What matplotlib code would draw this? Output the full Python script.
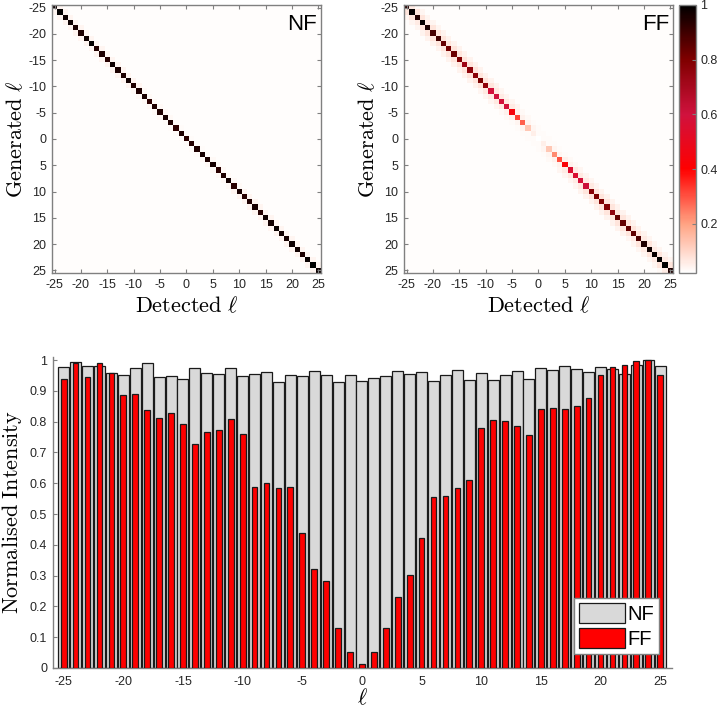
import numpy as np
import matplotlib
matplotlib.use('Agg')
import matplotlib.pyplot as plt
from matplotlib.colors import LinearSegmentedColormap, Normalize

plt.rcParams['font.family'] = ['Liberation Sans', 'DejaVu Sans']
plt.rcParams['mathtext.fontset'] = 'cm'
plt.rcParams['axes.unicode_minus'] = False

# orbital angular momentum values
ell = np.arange(-25, 26)

# normalised intensity (ell = -25 ... 25)
nf_vals = [0.976, 0.993, 0.980, 0.980, 0.959, 0.952, 0.975, 0.989, 0.946, 0.948,
           0.937, 0.975, 0.957, 0.954, 0.973, 0.949, 0.954, 0.960, 0.930, 0.950,
           0.948, 0.964, 0.953, 0.929, 0.952, 0.932, 0.942, 0.949, 0.965, 0.955,
           0.962, 0.932, 0.951, 0.968, 0.934, 0.959, 0.935, 0.950, 0.965, 0.939,
           0.974, 0.967, 0.982, 0.971, 0.962, 0.976, 0.971, 0.954, 0.983, 0.999,
           0.980]
ff_vals = [0.937, 0.989, 0.946, 0.989, 0.957, 0.886, 0.889, 0.837, 0.813, 0.829,
           0.793, 0.728, 0.765, 0.774, 0.810, 0.761, 0.587, 0.601, 0.584, 0.589,
           0.439, 0.322, 0.282, 0.130, 0.051, 0.014, 0.052, 0.130, 0.229, 0.301,
           0.421, 0.554, 0.559, 0.586, 0.611, 0.780, 0.804, 0.802, 0.787, 0.757,
           0.842, 0.843, 0.840, 0.850, 0.877, 0.950, 0.977, 0.985, 0.996, 0.999,
           0.953]

# faint crosstalk next to the diagonal (first and second neighbours)
nf_side1 = [0.04, 0.04, 0.04, 0.04, 0.04, 0.04, 0.04, 0.04, 0.04, 0.04,
            0.04, 0.04, 0.04, 0.04, 0.04, 0.04, 0.035, 0.035, 0.035, 0.035,
            0.035, 0.035, 0.03, 0.03, 0.03, 0.03, 0.03, 0.03, 0.03, 0.035,
            0.035, 0.035, 0.035, 0.035, 0.035, 0.04, 0.04, 0.04, 0.04, 0.04,
            0.04, 0.04, 0.04, 0.04, 0.04, 0.04, 0.04, 0.04, 0.04, 0.04,
            0.04]
ff_side1 = [0.06, 0.07, 0.07, 0.06, 0.07, 0.07, 0.07, 0.07, 0.07, 0.07,
            0.07, 0.07, 0.07, 0.07, 0.07, 0.07, 0.065, 0.06, 0.065, 0.06,
            0.05, 0.05, 0.04, 0.04, 0.03, 0.03, 0.03, 0.04, 0.04, 0.05,
            0.05, 0.06, 0.065, 0.06, 0.065, 0.07, 0.07, 0.07, 0.07, 0.07,
            0.07, 0.07, 0.07, 0.07, 0.06, 0.07, 0.06, 0.07, 0.06, 0.07,
            0.06]
ff_side2 = [0.035, 0.04, 0.04, 0.04, 0.04, 0.045, 0.045, 0.045, 0.045, 0.045,
            0.045, 0.045, 0.045, 0.045, 0.045, 0.045, 0.04, 0.04, 0.04, 0.04,
            0.035, 0.035, 0.03, 0.03, 0.03, 0.03, 0.03, 0.03, 0.03, 0.035,
            0.035, 0.04, 0.04, 0.04, 0.04, 0.045, 0.045, 0.045, 0.045, 0.045,
            0.045, 0.045, 0.045, 0.045, 0.04, 0.04, 0.04, 0.04, 0.04, 0.04,
            0.035]
background = 0.025


def build_matrix(diag, side1, side2=None):
    n = len(diag)
    m = np.full((n, n), background)
    for i in range(n):
        for j in (i - 1, i + 1):
            if 0 <= j < n:
                m[i, j] = side1[i]
        if side2 is not None:
            for j in (i - 2, i + 2):
                if 0 <= j < n:
                    m[i, j] = side2[i]
        m[i, i] = diag[i]
    return m


nf_mat = build_matrix(nf_vals, nf_side1)
ff_mat = build_matrix(ff_vals, ff_side1, ff_side2)

# colour map: white -> salmon -> red -> crimson -> dark red -> black
vmin, vmax = 0.02, 1.0
stops = [0.02, 0.2, 0.4, 0.6, 0.8, 1.0]
stop_cols = ['#ffffff', '#ffa282', '#ff0000', '#d0123e', '#800000', '#000000']
cmap = LinearSegmentedColormap.from_list(
    'wrk', [((s - vmin) / (vmax - vmin), c) for s, c in zip(stops, stop_cols)])
norm = Normalize(vmin=vmin, vmax=vmax)

spine_col = '#808080'
tick_col = '#262626'
tick_fs = 9
label_fs = 16

fig = plt.figure(figsize=(7.2, 7.1), dpi=100)


def style_axes(ax, box=True):
    for s in ax.spines.values():
        s.set_color(spine_col)
        s.set_linewidth(1.0)
    if not box:
        ax.spines['top'].set_visible(False)
        ax.spines['right'].set_visible(False)
    ax.tick_params(direction='in', length=3, width=0.8, color=spine_col,
                   labelcolor=tick_col, labelsize=tick_fs,
                   top=box, right=box, pad=4)


ticks5 = np.arange(-25, 26, 5)
for left, mat, name in [(0.0722, nf_mat, 'NF'), (0.561, ff_mat, 'FF')]:
    ax = fig.add_axes([left, 0.6155, 0.3736, 0.3775])
    ax.imshow(mat, cmap=cmap, norm=norm, interpolation='nearest', aspect='auto',
              extent=[-25.5, 25.5, 25.5, -25.5])
    ax.set_xticks(ticks5)
    ax.set_yticks(ticks5)
    ax.set_xticklabels([str(t) for t in ticks5])
    ax.set_yticklabels([str(t) for t in ticks5])
    style_axes(ax)
    ax.set_xlabel(r'$\mathrm{Detected}\ \ell$', fontsize=label_fs, labelpad=4)
    ax.set_ylabel(r'$\mathrm{Generated}\ \ell$', fontsize=label_fs, labelpad=1)
    ax.text(0.985, 0.965, name, transform=ax.transAxes, ha='right', va='top',
            fontsize=16, color='black')

cax = fig.add_axes([0.943, 0.6155, 0.0236, 0.3775])
sm = plt.cm.ScalarMappable(norm=norm, cmap=cmap)
cb = fig.colorbar(sm, cax=cax)
cb.set_ticks([0.2, 0.4, 0.6, 0.8, 1.0])
cb.set_ticklabels(['0.2', '0.4', '0.6', '0.8', '1'])
cb.outline.set_edgecolor(spine_col)
cb.outline.set_linewidth(1.0)
cax.tick_params(direction='in', length=3, width=0.8, color=spine_col,
                labelcolor=tick_col, labelsize=tick_fs, pad=3)

# bar chart
axb = fig.add_axes([0.0732, 0.0592, 0.860, 0.438])
axb.bar(ell, nf_vals, width=0.92, color='#d9d9d9', edgecolor='#1a1a1a',
        linewidth=0.9, label='NF', zorder=2)
axb.bar(ell, ff_vals, width=0.48, color='#ff0000', edgecolor='#1a1a1a',
        linewidth=0.9, label='FF', zorder=3)
axb.set_xlim(-25.92, 25.98)
axb.set_ylim(0, 1.01)
axb.set_xticks(ticks5)
axb.set_xticklabels([str(t) for t in ticks5])
yt = np.round(np.arange(0, 1.01, 0.1), 1)
axb.set_yticks(yt)
axb.set_yticklabels(['0'] + ['%.1f' % v for v in yt[1:-1]] + ['1'])
style_axes(axb, box=False)
axb.tick_params(axis='x', pad=6)
axb.set_xlabel(r'$\ell$', fontsize=label_fs, labelpad=0)
axb.set_ylabel(r'$\mathrm{Normalised\ Intensity}$', fontsize=label_fs, labelpad=4)
leg = axb.legend(loc='lower right', bbox_to_anchor=(0.979, 0.045), fontsize=14.5,
                 frameon=True, fancybox=False, edgecolor=spine_col,
                 handlelength=2.3, handleheight=1.15, handletextpad=0.1,
                 borderpad=0.25, labelspacing=0.2, borderaxespad=0.0)
leg.get_frame().set_linewidth(1.0)
leg.get_frame().set_alpha(1.0)

fig.savefig('out.png', dpi=100)
